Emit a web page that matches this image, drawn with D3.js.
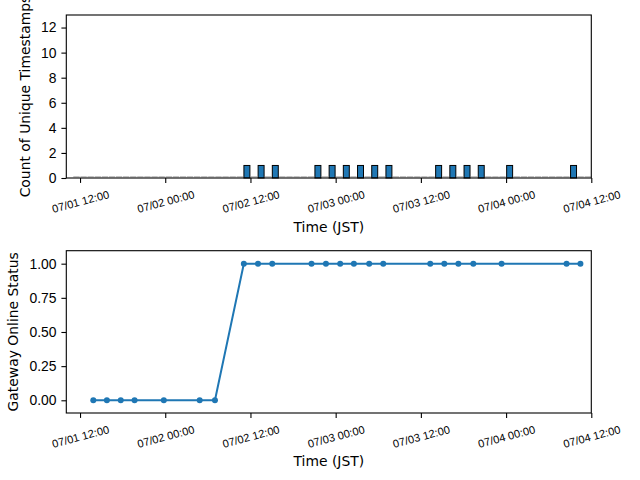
<!DOCTYPE html>
<html>
<head>
<meta charset="utf-8">
<script src="https://cdn.jsdelivr.net/npm/d3@7"></script>
<style>
  body { margin: 0; background: #fff; }
  svg { display: block; font-family: "DejaVu Sans", sans-serif; }
</style>
</head>
<body>
<div id="chart"></div>
<script>
// hourly bins that had timestamps (count of unique timestamps)
var barHours = ["07/02 11:00", "07/02 13:00", "07/02 15:00", "07/02 21:00", "07/02 23:00",
                "07/03 01:00", "07/03 03:00", "07/03 05:00", "07/03 07:00", "07/03 14:00",
                "07/03 16:00", "07/03 18:00", "07/03 20:00", "07/04 00:00", "07/04 09:00"];
var barCounts = [1, 1, 1, 1, 1, 1, 1, 1, 1, 1, 1, 1, 1, 1, 1];
var binStart = "07/01 11:00", binEnd = "07/04 11:00";

// gateway status samples
var statusTimes = ["07/01 13:52", "07/01 15:47", "07/01 17:44", "07/01 19:41", "07/01 23:48",
                   "07/02 04:51", "07/02 07:00", "07/02 11:04", "07/02 13:04", "07/02 15:04",
                   "07/02 20:36", "07/02 22:38", "07/03 00:38", "07/03 02:34", "07/03 04:43",
                   "07/03 06:42", "07/03 13:19", "07/03 15:18", "07/03 17:17", "07/03 19:23",
                   "07/03 23:22", "07/04 08:31", "07/04 10:28"];
var statusValues = [0, 0, 0, 0, 0, 0, 0, 1, 1, 1, 1, 1, 1, 1, 1, 1, 1, 1, 1, 1, 1, 1, 1];

var xTickLabels = ["07/01 12:00", "07/02 00:00", "07/02 12:00", "07/03 00:00",
                   "07/03 12:00", "07/04 00:00", "07/04 12:00"];
var xDomain = ["07/01 10:04", "07/04 12:00"];

var parse = function(s) { return d3.utcParse("%Y/%m/%d %H:%M")("2024/" + s); };
var fmt = d3.utcFormat("%m/%d %H:%M");
var blue = "#1f77b4";
var HOUR = 3600 * 1000;

var svg = d3.select("#chart").append("svg")
    .attr("width", 640).attr("height", 480);

var left = 66.3, right = 591.3;
var x = d3.scaleUtc()
    .domain(xDomain.map(parse))
    .range([left, right]);

function xAxis(g, yPos) {
  var ax = g.append("g")
      .attr("transform", "translate(0," + yPos + ")")
      .call(d3.axisBottom(x).tickValues(xTickLabels.map(parse)).tickFormat(fmt)
            .tickSize(4.9).tickPadding(4.9));
  ax.select(".domain").remove();
  ax.selectAll(".tick line").attr("stroke", "#000").attr("stroke-width", 1.1);
  ax.selectAll(".tick text")
      .attr("font-size", 11.1)
      .attr("fill", "#000")
      .attr("text-anchor", "middle")
      .attr("dy", null).attr("y", null)
      .attr("dominant-baseline", "central")
      .attr("transform", "translate(0,23.5) rotate(-15)");
}

function frame(top, bottom) {
  svg.append("rect")
      .attr("x", left).attr("y", top)
      .attr("width", right - left).attr("height", bottom - top)
      .attr("fill", "none").attr("stroke", "#000").attr("stroke-width", 1.1);
}

function yLabel(text, cx, cy) {
  svg.append("text")
      .attr("transform", "translate(" + cx + "," + cy + ") rotate(-90)")
      .attr("text-anchor", "middle")
      .attr("dominant-baseline", "central")
      .attr("font-size", 13.9)
      .text(text);
}

function xLabel(cy) {
  svg.append("text")
      .attr("x", (left + right) / 2).attr("y", cy)
      .attr("text-anchor", "middle")
      .attr("dominant-baseline", "central")
      .attr("font-size", 13.9)
      .text("Time (JST)");
}

function yAxis(y, ticks, f) {
  var ax = svg.append("g")
      .attr("transform", "translate(" + left + ",0)")
      .call(d3.axisLeft(y).tickValues(ticks).tickFormat(f).tickSize(4.9).tickPadding(4.9));
  ax.select(".domain").remove();
  ax.selectAll(".tick line").attr("stroke", "#000").attr("stroke-width", 1.1);
  ax.selectAll(".tick text").attr("font-size", 13.9).attr("fill", "#000");
}

// ---- top: count histogram
var t1 = 15, b1 = 178;
var y1 = d3.scaleLinear().domain([0, 13]).range([b1, t1]);

var bars = barHours.map(function(h, i) { return {t: parse(h), v: barCounts[i]}; });
var zeroBins = d3.utcHour.range(parse(binStart), new Date(+parse(binEnd) + 1))
    .filter(function(t) { return !bars.some(function(b) { return +b.t === +t; }); });

var gTop = svg.append("g");
gTop.selectAll(".zero")
    .data(zeroBins)
  .enter().append("line")
    .attr("x1", function(d) { return x(new Date(+d + 0.05 * HOUR)); })
    .attr("x2", function(d) { return x(new Date(+d + 0.95 * HOUR)); })
    .attr("y1", y1(0) - 1.2).attr("y2", y1(0) - 1.2)
    .attr("stroke", "#aaa").attr("stroke-width", 1);

gTop.selectAll(".bar")
    .data(bars)
  .enter().append("rect")
    .attr("x", function(d) { return x(new Date(+d.t + 0.08 * HOUR)); })
    .attr("width", function(d) { return x(new Date(+d.t + 0.92 * HOUR)) - x(new Date(+d.t + 0.08 * HOUR)); })
    .attr("y", function(d) { return y1(d.v); })
    .attr("height", function(d) { return y1(0) - y1(d.v); })
    .attr("fill", blue).attr("stroke", "#000").attr("stroke-width", 1);

yAxis(y1, d3.range(0, 13, 2), d3.format("d"));
xAxis(svg, b1);
frame(t1, b1);
yLabel("Count of Unique Timestamps", 24.5, (t1 + b1) / 2);
xLabel(227);

// ---- bottom: online status
var t2 = 250.7, b2 = 413;
var y2 = d3.scaleLinear().domain([-0.093, 1.095]).range([b2, t2]);
var pts = statusTimes.map(function(s, i) { return {t: parse(s), v: statusValues[i]}; });

svg.append("path")
    .datum(pts)
    .attr("fill", "none").attr("stroke", blue).attr("stroke-width", 2)
    .attr("d", d3.line()
        .x(function(d) { return x(d.t); })
        .y(function(d) { return y2(d.v); }));

svg.selectAll(".pt")
    .data(pts)
  .enter().append("circle")
    .attr("cx", function(d) { return x(d.t); })
    .attr("cy", function(d) { return y2(d.v); })
    .attr("r", 3)
    .attr("fill", blue);

yAxis(y2, [0, 0.25, 0.5, 0.75, 1], d3.format(".2f"));
xAxis(svg, b2);
frame(t2, b2);
yLabel("Gateway Online Status", 12.5, (t2 + b2) / 2);
xLabel(461);
</script>
</body>
</html>
